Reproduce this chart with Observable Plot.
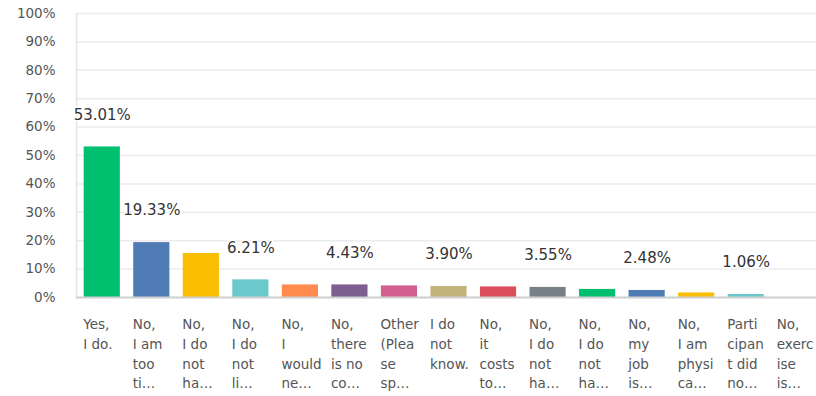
<!DOCTYPE html>
<html>
<head>
<meta charset="utf-8">
<script src="https://cdn.jsdelivr.net/npm/d3@7"></script>
<script src="https://cdn.jsdelivr.net/npm/@observablehq/plot@0.6"></script>
<style>
  html, body { margin: 0; padding: 0; background: #fff; overflow: hidden; }
</style>
</head>
<body>
<div id="chart"></div>
<script>
const categories = [
  "Yes,\nI do.",
  "No,\nI am\ntoo\nti…",
  "No,\nI do\nnot\nha…",
  "No,\nI do\nnot\nli…",
  "No,\nI\nwould\nne…",
  "No,\nthere\nis no\nco…",
  "Other\n(Plea\nse\nsp…",
  "I do\nnot\nknow.",
  "No,\nit\ncosts\nto…",
  "No,\nI do\nnot\nha…",
  "No,\nI do\nnot\nha…",
  "No,\nmy\njob\nis…",
  "No,\nI am\nphysi\nca…",
  "Parti\ncipan\nt did\nno…",
  "No,\nexerc\nise\nis…"
];
const values = [53.01, 19.33, 15.51, 6.21, 4.43, 4.43, 4.08, 3.90, 3.72, 3.55, 2.84, 2.48, 1.60, 1.06, 0];
const showValue = [true, true, false, true, false, true, false, true, false, true, false, true, false, true, false];
const colors = ["#00BF6F", "#507CB6", "#F9BE00", "#6BC8CD", "#FF8B4F", "#7D5E90", "#D25F90", "#C4B27B", "#DC4D5A", "#768086", "#00BF6F", "#507CB6", "#F9BE00", "#6BC8CD", "#FF8B4F"];
const yTicks = [0, 10, 20, 30, 40, 50, 60, 70, 80, 90, 100];

const data = categories.map((c, i) => ({i, label: c, value: values[i], color: colors[i], show: showValue[i]}));

const chart = Plot.plot({
  width: 816,
  height: 396,
  marginLeft: 76,
  marginRight: 0,
  marginTop: 13,
  marginBottom: 99,
  style: {fontFamily: "'DejaVu Sans', sans-serif", background: "#fff", overflow: "visible"},
  x: {type: "band", domain: d3.range(categories.length), range: [77, 820], paddingInner: 0.27, paddingOuter: 0.135, round: false},
  y: {domain: [0, 100], range: [297, 13]},
  marks: [
    Plot.gridY(yTicks, {stroke: "#ececec", strokeOpacity: 1, strokeWidth: 1.5}),
    Plot.frame({anchor: "left", stroke: "#e4e4e4", strokeWidth: 1.5}),
    Plot.barY(data, {x: "i", y: "value", fill: "color"}),
    Plot.ruleY([0], {stroke: "#d0d0d0", strokeWidth: 2}),
    Plot.text(data.filter(d => d.show), {
      x: "i", y: "value", text: d => d.value.toFixed(2) + "%",
      dy: -32, fontSize: 15, fill: "#333", stroke: "white", strokeWidth: 3,
      style: "letter-spacing:0.8px"
    }),
    Plot.axisY(yTicks, {
      tickFormat: d => d + "%", tickSize: 0, tickPadding: 21,
      fontSize: 13.5, fill: "#555", label: null,
      style: "letter-spacing:1.6px"
    }),
    Plot.axisX({
      tickFormat: i => categories[i], tickSize: 0, tickPadding: 18,
      textAnchor: "start", dx: -19, lineHeight: 1.45,
      fontSize: 13.5, fill: "#555", label: null,
      style: "letter-spacing:0.3px"
    })
  ]
});
document.getElementById("chart").append(chart);
</script>
</body>
</html>
